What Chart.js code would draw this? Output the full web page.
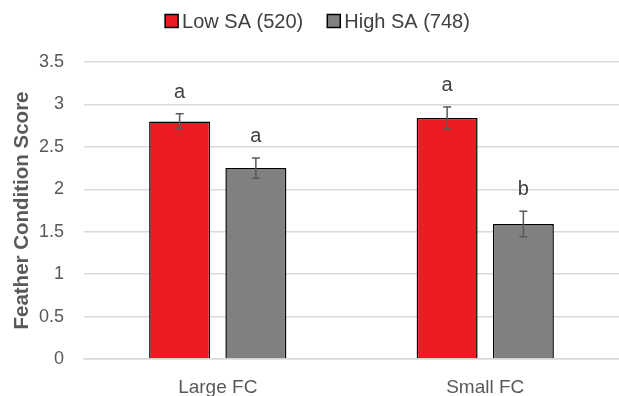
<!DOCTYPE html>
<html lang="en">
<head>
  <meta charset="UTF-8" />
  <title>Feather Condition Score</title>
  <script src="https://cdn.jsdelivr.net/npm/chart.js@4.4.1/dist/chart.umd.min.js"></script>
  <style>
    html, body { margin: 0; padding: 0; background: #fff; }
    .wrap { width: 619px; height: 396px; }
  </style>
</head>
<body>
  <div class="wrap"><canvas id="chart" width="619" height="396"></canvas></div>

  <script>
  const categories = ['Large FC', 'Small FC'];
  const lowSA      = [2.80, 2.84];
  const highSA     = [2.25, 1.59];
  const lowSE      = [0.09, 0.13];
  const highSE     = [0.12, 0.15];
  const lowLetters = ['a', 'a'];
  const highLetters = ['a', 'b'];
  const yMin = 0, yMax = 3.5, yStep = 0.5;

  const FONT = '"Liberation Sans", Arial, sans-serif';

  // error bars + significance letters on top of each bar
  const errorBars = {
    id: 'errorBars',
    afterDatasetsDraw(chart) {
      const ctx = chart.ctx;
      const y = chart.scales.y;
      chart.data.datasets.forEach((ds, di) => {
        const meta = chart.getDatasetMeta(di);
        meta.data.forEach((bar, i) => {
          const v = ds.data[i], se = ds.se[i];
          const top = y.getPixelForValue(v + se);
          const bot = y.getPixelForValue(v - se);
          ctx.save();
          ctx.strokeStyle = '#595959';
          ctx.lineWidth = 1.5;
          ctx.beginPath();
          ctx.moveTo(bar.x, top); ctx.lineTo(bar.x, bot);
          ctx.moveTo(bar.x - 4, top); ctx.lineTo(bar.x + 4, top);
          ctx.moveTo(bar.x - 4, bot); ctx.lineTo(bar.x + 4, bot);
          ctx.stroke();
          ctx.fillStyle = '#404040';
          ctx.font = '20px ' + FONT;
          ctx.textAlign = 'center';
          ctx.textBaseline = 'alphabetic';
          ctx.fillText(ds.letters[i], bar.x, top - 16);
          ctx.restore();
        });
      });
    }
  };

  // legend drawn by hand so box/text spacing matches
  const topLegend = {
    id: 'topLegend',
    afterDraw(chart) {
      const ctx = chart.ctx;
      const box = 13, gap = 4, itemGap = 24, cy = 21;
      ctx.save();
      ctx.font = '20px ' + FONT;
      const items = chart.data.datasets.map(ds => ({ ds, w: ctx.measureText(ds.label).width }));
      const total = items.reduce((s, it) => s + box + gap + it.w, 0) + itemGap * (items.length - 1);
      let x = (chart.width - total) / 2 + 8;
      items.forEach(it => {
        ctx.fillStyle = it.ds.backgroundColor;
        ctx.fillRect(x, cy - box / 2, box, box);
        ctx.strokeStyle = '#000';
        ctx.lineWidth = 1.5;
        ctx.strokeRect(x, cy - box / 2, box, box);
        ctx.fillStyle = '#404040';
        ctx.textAlign = 'left';
        ctx.textBaseline = 'middle';
        ctx.fillText(it.ds.label, x + box + gap, cy + 1);
        x += box + gap + it.w + itemGap;
      });
      ctx.restore();
    }
  };

  new Chart(document.getElementById('chart'), {
    type: 'bar',
    data: {
      labels: categories,
      datasets: [{
        label: 'Low SA (520)',
        data: lowSA,
        se: lowSE,
        letters: lowLetters,
        backgroundColor: '#ED1C24',
        borderColor: '#000',
        borderWidth: 1.5,
        categoryPercentage: 0.57,
        barPercentage: 0.8
      }, {
        label: 'High SA (748)',
        data: highSA,
        se: highSE,
        letters: highLetters,
        backgroundColor: '#808080',
        borderColor: '#000',
        borderWidth: 1.5,
        categoryPercentage: 0.57,
        barPercentage: 0.8
      }]
    },
    plugins: [errorBars, topLegend],
    options: {
      responsive: false,
      animation: false,
      layout: { padding: { left: 0, right: 0, top: 62, bottom: 0 } },
      plugins: {
        tooltip: { enabled: false },
        legend: { display: false }
      },
      scales: {
        x: {
          grid: { display: false, drawTicks: false },
          border: { color: '#d9d9d9', width: 1.5 },
          ticks: { color: '#595959', font: { family: FONT, size: 19 }, padding: 17 },
          afterFit: s => { s.height = 37; }
        },
        y: {
          min: yMin, max: yMax,
          ticks: {
            stepSize: yStep, color: '#595959', font: { family: FONT, size: 18 }, padding: 20,
            callback: v => String(v)
          },
          grid: { color: '#d9d9d9', lineWidth: 1.5, drawTicks: false },
          border: { display: false },
          title: { display: true, text: 'Feather Condition Score', color: '#595959',
                   font: { family: FONT, size: 20.5, weight: 'bold' }, padding: { top: 10, bottom: 0 } },
          afterFit: s => { s.width = 84; }
        }
      }
    }
  });
  </script>
</body>
</html>
